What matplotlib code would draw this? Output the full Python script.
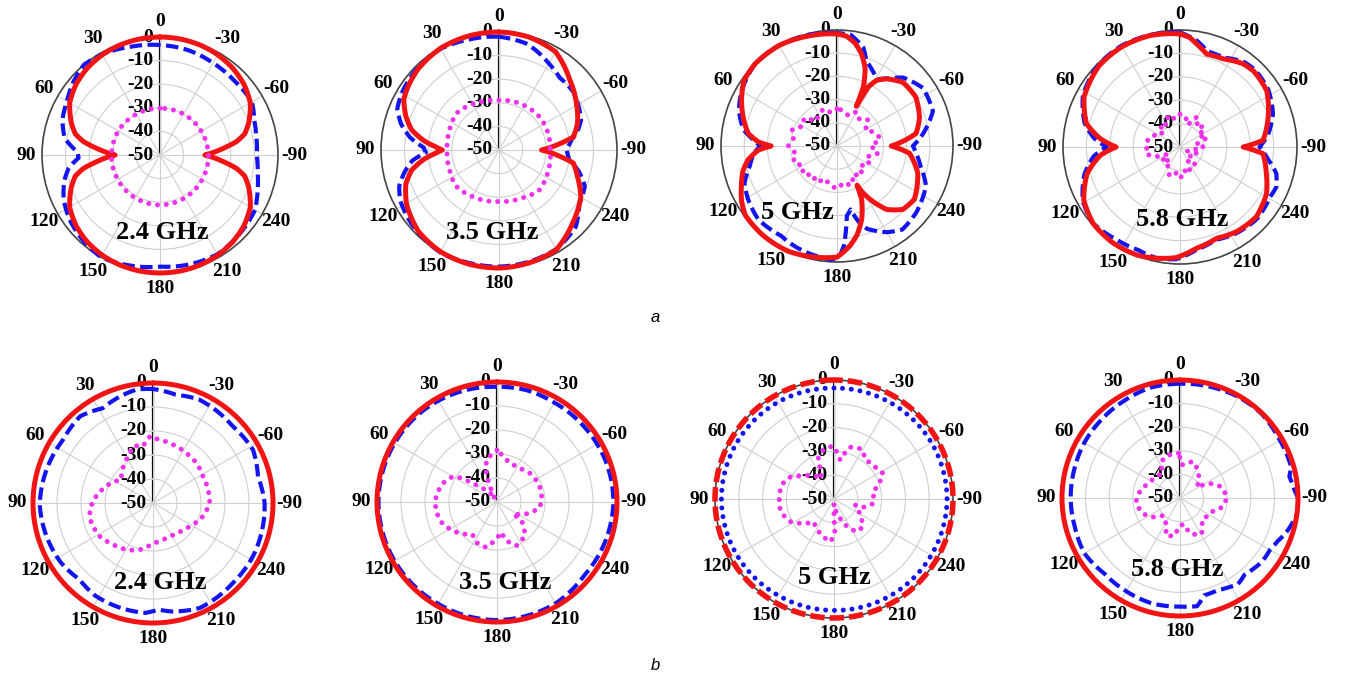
import matplotlib
matplotlib.use("Agg")
import matplotlib.pyplot as plt
import numpy as np

plt.rcParams["font.family"] = "serif"
plt.rcParams["font.serif"] = ["Liberation Serif", "DejaVu Serif"]

W, H = 1347, 680

THETA_TICKS = [0, 30, 60, 90, 120, 150, 180, 210, 240, 270, 300, 330]
THETA_LABELS = ["0", "30", "60", "90", "120", "150", "180", "210", "240", "-90", "-60", "-30"]
R_LABELS = [0, -10, -20, -30, -40, -50]
FREQS = ["2.4 GHz", "3.5 GHz", "5 GHz", "5.8 GHz"]

# ---------- row a ----------
A24_RED_T = [0, 10, 20, 30, 40, 50, 60, 70, 76, 80, 84, 87, 90,
             93, 96, 100, 104, 110, 120, 130, 140, 150, 160, 170, 180,
             190, 200, 210, 220, 230, 240, 250, 256, 260, 264, 267, 270,
             273, 276, 280, 284, 290, 300, 310, 320, 330, 340, 350, 360]
A24_RED_DB = [0, -0.1, -0.4, -1, -2, -3.5, -5.8, -10, -13, -17, -23, -27, -31,
              -27, -23, -17, -13, -10, -5.8, -3.5, -2, -1, -0.4, -0.1, 0,
              -0.1, -0.4, -1, -2, -3.5, -5.8, -10, -13, -17, -23, -27, -31,
              -27, -23, -17, -13, -10, -5.8, -3.5, -2, -1, -0.4, -0.1, 0]
A24_BLUE_T = [0, 15, 30, 40, 50, 60, 70, 80, 88, 92, 98, 105, 115, 125, 140, 150,
              165, 180, 195, 210, 225, 240, 250, 260, 270, 280, 290, 300, 315, 330, 345, 360]
A24_BLUE_DB = [-3.4, -2.5, -0.8, 0, -2, -4.5, -6, -9, -15, -15.5, -11, -8, -5, -3, -1, 0,
               -1.5, -2.7, -2, -1.4, -2.5, -3.5, -6, -8, -9, -8.5, -7.5, -5, -5.5, -5, -4, -3.4]
A24_MAG_T = [0, 30, 60, 90, 120, 150, 180, 210, 240, 270, 300, 330, 360]
A24_MAG_DB = [-30.2, -30, -29.6, -29.5, -29.3, -29, -28.8, -29, -29.3, -29.5, -29.8, -30, -30.2]

A35_RED_T = [0, 15, 30, 45, 55, 62, 70, 77, 83, 87, 90, 93, 97, 103, 110, 120, 135, 150, 165, 180,
             195, 210, 225, 240, 251, 260, 264, 267, 270, 273, 276, 280, 289, 300, 315, 330, 345, 360]
A35_RED_DB = [0, 0, -0.3, -1.5, -3, -4.3, -8, -12, -18, -23, -26, -23, -18, -12, -8, -4.7, -1.5, -0.3, 0, 0,
              -0.5, -1.3, -6, -10, -14.8, -18, -24, -28, -32, -28, -24, -18, -14.8, -12, -7.7, -2, -0.5, 0]
A35_BLUE_T = [0, 15, 30, 45, 60, 68, 75, 82, 88, 92, 97, 103, 110, 117, 130, 150, 165, 180,
              195, 210, 225, 236, 247, 255, 262, 270, 278, 282, 290, 296, 308, 320, 330, 345, 360]
A35_BLUE_DB = [-2, -1.5, -0.5, -1, -2.3, -3.5, -7, -12, -18, -19, -13, -9, -5, -3, -1.5, 0, -0.5, -0.6,
               -1, -1.5, -4, -9, -10.5, -15, -20, -21.5, -19, -16.5, -13, -12, -10, -10, -7.7, -3.5, -2]
A35_MAG_T = [0, 20, 49, 70, 90, 110, 130, 155, 180, 205, 225, 250, 270, 290, 309, 335, 360]
A35_MAG_DB = [-28.9, -28.2, -26.2, -27.5, -28, -27.5, -26.2, -27.5, -28.2, -27.5, -25.9, -27.5,
              -28.3, -28, -27.8, -28.4, -28.9]

A5_RED_T = [0, 15, 30, 45, 55, 64.5, 75, 82, 87, 90, 93, 98.8, 105, 112.8, 120, 127, 140, 155, 168, 180,
            187.5, 193, 198.7, 204.8, 207, 209, 211.7, 218, 226, 235.4, 251.5, 264.3, 270, 274, 279,
            289, 302, 314, 323.5, 329, 332, 334, 336, 340, 345, 350, 355, 360]
A5_RED_DB = [-1.7, -1, 0, 0, -1, -4.4, -8.5, -11.4, -16, -21.6, -16, -11.2, -8, -5.3, -2.5, -0.5, 0, 0,
             -1.1, -2.1, -6.7, -11, -16.8, -24.7, -31, -27, -23, -15.3, -10.6, -9.5, -13.3, -18.6, -26.6,
             -21.6, -15.5, -12.4, -10, -10.5, -14, -17, -21, -31, -22, -14.5, -9, -5, -2.5, -1.7]
A5_BLUE_T = [0, 15, 30, 45, 60, 70, 80, 86, 90, 95, 103, 112, 121, 133, 148, 158, 166, 177, 181, 184,
             188, 192, 196, 200, 210, 218, 230, 246, 256, 264, 270, 278, 290, 304, 316, 322, 329, 335,
             341, 345, 353, 360]
A5_BLUE_DB = [-1.3, -0.5, 0, 0, -2.5, -5, -9, -14, -17, -14, -11.4, -7, -5.3, -3.6, -4.4, -3, -2.1, -1,
              -2, -7, -19.6, -22, -16, -12, -7.1, -4.3, -5.4, -8, -12.8, -15.5, -17.3, -12.6, -6, -5.3,
              -9, -13, -16.5, -14, -11.2, -6.1, -1.7, -1.3]
A5_MAG_T = [0, 10, 20, 30, 40, 50, 60, 70, 80, 90, 100, 110, 120, 130, 140, 150, 160, 170, 180,
            190, 200, 210, 220, 230, 240, 250, 260, 270, 280, 290, 300, 310, 320, 330, 340, 350, 360]
A5_MAG_DB = [-34, -35.5, -33, -34.5, -36, -31.5, -33, -29.5, -31, -29, -32, -30, -33, -31, -34, -32,
             -35, -33, -31.5, -34, -32, -36, -33.5, -37, -34, -36.5, -32, -35.5, -31, -33, -36, -32.5,
             -35, -33, -36, -34.5, -34]

A58_RED_T = [0, 15, 30, 45, 62.5, 76, 84, 90, 96, 106, 119, 131.6, 145, 158.5, 168, 178, 189, 201.8,
             213.7, 227.6, 241.7, 252.8, 265.4, 270, 274.6, 288.8, 303, 316, 323, 334, 344, 350.8, 355, 360]
A58_RED_DB = [-1.7, -0.7, -0.5, -1, -3.8, -8.8, -15.7, -22.7, -15.7, -8.7, -3, -0.5, 0, -0.3, -1.4,
              -2.7, -6.1, -8, -6.5, -5.8, -8, -11.4, -14.4, -23, -14.4, -10.2, -5.8, -4.8, -5.4, -8.1,
              -8.7, -5.4, -3, -1.7]
A58_BLUE_T = [0, 15, 30, 45, 62, 76, 84, 90, 96, 106, 119, 131, 145, 158, 168, 178, 189, 201, 213,
              227, 241, 247.5, 254.6, 262, 270, 278, 289.7, 303, 316, 323, 334, 344, 351, 360]
A58_BLUE_DB = [-1, -0.5, 0, -0.5, -3, -8, -13, -18.7, -13, -7.5, -2.5, -0.5, -2, -2.5, -1.5, -2, -5.5,
               -7.5, -6, -5, -6, -5.4, -7.3, -12, -16, -12, -7.8, -5, -4, -4.5, -7.5, -7.5, -4, -1]
A58_MAG_T = [0, 10, 20, 30, 40, 50, 60, 70, 80, 90, 100, 110, 120, 130, 140, 150, 160, 170, 180,
             190, 200, 210, 220, 230, 240, 250, 260, 270, 280, 290, 300, 310, 320, 330, 340, 350, 360]
A58_MAG_DB = [-36, -38, -35.5, -39, -37, -41, -38, -38, -35.5, -36, -35, -38, -44, -40, -43, -39.5,
              -37, -39, -36.5, -40, -38, -43, -40, -45, -47, -42, -44, -40, -43, -37.5, -41, -36.5,
              -39, -35, -40, -37, -36]

# ---------- row b ----------
B_RED_T = [0, 30, 60, 90, 120, 150, 180, 210, 240, 270, 300, 330, 360]
B_RED_DB = [0, 0, 0, 0, 0, 0, 0, 0, 0, 0, 0, 0, 0]

B24_BLUE_T = [0, 8, 17, 28, 40, 55, 73, 91, 107, 123, 136, 148, 160, 176, 183, 190, 204, 225,
              242, 258, 270, 284, 298, 314, 336, 348, 360]
B24_BLUE_DB = [-2.5, -2.2, -3.5, -5.3, -2.8, -4.2, -3.5, -2.8, -3.5, -4.3, -5.8, -4.5, -4.3, -4.1,
               -5.5, -4.1, -2.1, -2.9, -2.8, -3.2, -3.5, -4.9, -2.8, -3.9, -2.8, -3.9, -2.5]
B24_MAG_T = [3, 10, 18, 31.6, 53.6, 70, 83, 96, 108, 122, 136, 150, 164, 180, 201, 218, 237.5,
             255, 270, 283.6, 298, 312.7, 326, 341, 354, 363]
B24_MAG_DB = [-22.5, -26, -25, -28.8, -33.6, -29.3, -26.2, -23.5, -23, -23.8, -26, -27.6, -29.7,
              -33.3, -34.4, -34.2, -31.9, -28.5, -26.4, -26.4, -26.4, -25.4, -25, -24.3, -23.5, -22.5]

B35_BLUE_T = [0, 20, 40, 60, 90, 120, 150, 180, 210, 230, 250, 270, 290, 310, 330, 345, 360]
B35_BLUE_DB = [-2, -1.5, -1, -0.8, -0.6, -0.8, -1, -0.8, -1.2, -2.5, -2, -1.5, -1.6, -2, -2.2, -1.8, -2]
B35_MAG_T = [0, 14, 20.6, 25, 30, 46, 52.6, 55.5, 60, 71, 85, 98, 112, 126, 143, 152.7, 166.7,
             176.5, 188, 193.7, 204, 219.7, 233, 234, 248, 263, 280.6, 294, 311, 325.8, 341.7, 352, 360]
B35_MAG_DB = [-28.4, -32, -37.3, -44.5, -48.5, -42, -37.4, -32.7, -28.8, -26.1, -24.5, -24.3, -25.6,
              -28.8, -33.1, -31.1, -30.6, -34, -37.3, -33.5, -30.1, -31.8, -37.3, -41.7, -36.8, -32,
              -31.1, -31.1, -31.8, -33.1, -33.1, -31, -28.4]

B5_BLUE_T = [0, 30, 60, 90, 120, 150, 180, 210, 240, 270, 300, 330, 360]
B5_BLUE_DB = [-3.4, -3, -2.8, -2.7, -2.9, -3.2, -3.2, -3, -2.8, -2.5, -2.7, -3.1, -3.4]
B5_MAG_T = [3.6, 12.3, 21, 24.5, 30.8, 53, 63.8, 75, 89.3, 103, 117, 127, 138.6, 161, 175.5, 182,
            180, 180, 195, 205, 214.8, 226, 238.4, 254, 253, 263.7, 280.7, 287.5, 297.8, 310, 322,
            330.9, 342.8, 351, 356.8, 363.6]
B5_MAG_DB = [-28, -28.9, -31.6, -35.8, -39.9, -33.8, -29.3, -27.2, -27, -27, -29.2, -33, -37.2, -34,
             -32, -37, -42.6, -48, -43, -37.5, -33.3, -33.2, -37.1, -40.8, -37.8, -33.3, -33.4, -30.5,
             -26.8, -28.4, -28.8, -26, -27.2, -33.4, -30, -28]

B58_BLUE_T = [0, 15, 30, 45, 60, 75, 90, 105, 120, 135, 150, 165, 180, 189, 194, 202, 208, 214, 220,
              226, 232, 240, 246, 253, 262, 270, 274, 281, 286, 302, 316, 331, 343, 360]
B58_BLUE_DB = [-1.6, -1.6, -2.5, -3, -3.2, -3.6, -3.7, -3.8, -3.2, -4.7, -4.4, -3.8, -4, -3.6, -7.5,
               -7.8, -7, -6, -7.5, -6.8, -6, -6, -4.8, -2.4, 0, 0, -1.4, -2.8, -1.1, -1.1, -0.3, -0.6,
               -1.1, -1.6]
B58_MAG_T = [2, 17.7, 27, 35.5, 48, 65.6, 81.5, 95, 110, 122, 136, 152.5, 160, 172, 176.7, 187, 198,
             211, 224, 245, 257.8, 271, 286, 295.5, 303, 323, 339.7, 357, 362]
B58_MAG_DB = [-31, -31.3, -32.7, -37.2, -36.6, -35.2, -32.7, -31.3, -32.6, -34.9, -39.7, -37.6, -33,
              -33.9, -37.6, -38.9, -33.9, -32.2, -36.7, -35.9, -31.8, -30, -32.2, -35.8, -41.5, -37,
              -33.6, -36, -31]

RED = "#f01414"
BLUE = "#1414f0"
MAGENTA = "#f032f0"

STYLES = {
    "solid": dict(lw=3.6, ls="-", solid_capstyle="round", solid_joinstyle="round"),
    "dash": dict(lw=3.0, dashes=(3.0, 1.3)),
    "bigdash": dict(lw=4.0, dashes=(2.6, 0.9)),
    "dot": dict(lw=3.6, dashes=(0.01, 1.75), dash_capstyle="round"),
}

# (centre x, centre y, radius) in pixels, freq label position in axes fraction
PANELS = [
    (160, 155, 118, 0.51, 0.17, A24_RED_T, A24_RED_DB, "solid", A24_BLUE_T, A24_BLUE_DB, "dash", A24_MAG_T, A24_MAG_DB, FREQS[0]),
    (499, 150, 118, 0.47, 0.15, A35_RED_T, A35_RED_DB, "solid", A35_BLUE_T, A35_BLUE_DB, "dash", A35_MAG_T, A35_MAG_DB, FREQS[1]),
    (837, 146, 116, 0.33, 0.215, A5_RED_T, A5_RED_DB, "solid", A5_BLUE_T, A5_BLUE_DB, "dash", A5_MAG_T, A5_MAG_DB, FREQS[2]),
    (1180, 147, 117, 0.51, 0.19, A58_RED_T, A58_RED_DB, "solid", A58_BLUE_T, A58_BLUE_DB, "dash", A58_MAG_T, A58_MAG_DB, FREQS[3]),
    (153, 503, 120, 0.53, 0.17, B_RED_T, B_RED_DB, "solid", B24_BLUE_T, B24_BLUE_DB, "dash", B24_MAG_T, B24_MAG_DB, FREQS[0]),
    (497, 502, 120, 0.533, 0.165, B_RED_T, B_RED_DB, "solid", B35_BLUE_T, B35_BLUE_DB, "dash", B35_MAG_T, B35_MAG_DB, FREQS[1]),
    (834, 499, 119, 0.5, 0.17, B_RED_T, B_RED_DB, "bigdash", B5_BLUE_T, B5_BLUE_DB, "dot", B5_MAG_T, B5_MAG_DB, FREQS[2]),
    (1180, 498, 118, 0.49, 0.195, B_RED_T, B_RED_DB, "solid", B58_BLUE_T, B58_BLUE_DB, "dash", B58_MAG_T, B58_MAG_DB, FREQS[3]),
]


def draw_curve(ax, t, db, color, kind, z):
    line, = ax.plot(np.radians(t), db, color=color, clip_on=False, zorder=z, **STYLES[kind])
    # let the polar transform draw each segment as an arc / spiral
    line.get_path()._interpolation_steps = 40
    return line


def main():
    fig = plt.figure(figsize=(W / 100, H / 100), dpi=100)
    fig.patch.set_facecolor("white")

    for (cx, cy, r, fx, fy, rt, rdb, rk, bt, bdb, bk, mt, mdb, freq) in PANELS:
        rect = [(cx - r) / W, 1 - (cy + r) / H, 2 * r / W, 2 * r / H]
        ax = fig.add_axes(rect, projection="polar")
        ax.set_theta_zero_location("N")
        ax.set_theta_direction(1)
        ax.set_ylim(-50, 0)
        ax.set_yticks([-40, -30, -20, -10])
        ax.set_yticklabels([])
        ax.set_thetagrids(THETA_TICKS, labels=THETA_LABELS, fontsize=14, fontweight="bold")
        ax.tick_params(axis="x", pad=1)
        ax.grid(True, color="#cfcfcf", lw=0.8)
        ax.spines["polar"].set_edgecolor("#444444")
        ax.spines["polar"].set_linewidth(1.2)
        ax.set_facecolor("none")

        ax.plot([0, 0], [-50, 0], color="black", lw=1.6, zorder=1.5)
        for v in R_LABELS:
            ax.annotate(str(v), xy=(0, v), xytext=(-5, 0), textcoords="offset points",
                        ha="right", va="center", fontsize=14, fontweight="bold",
                        annotation_clip=False, zorder=2)

        draw_curve(ax, bt, bdb, BLUE, bk, 3)
        draw_curve(ax, rt, rdb, RED, rk, 4)
        draw_curve(ax, mt, mdb, MAGENTA, "dot", 5)

        ax.text(fx, fy, freq, transform=ax.transAxes, ha="center", va="center",
                fontsize=19, fontweight="bold", zorder=6)

    fig.text(655 / W, 1 - 317 / H, "a", family="Liberation Sans", style="italic",
             fontsize=12, ha="center", va="center")
    fig.text(655 / W, 1 - 665 / H, "b", family="Liberation Sans", style="italic",
             fontsize=12, ha="center", va="center")

    fig.savefig("out.png", dpi=100)
    plt.close(fig)


if __name__ == "__main__":
    main()
